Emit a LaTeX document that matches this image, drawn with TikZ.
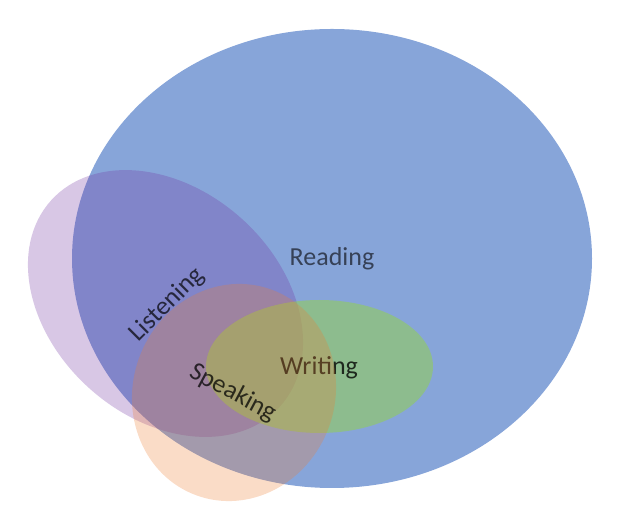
\documentclass[tikz,border=0pt]{standalone}
\usepackage{fontspec}
\setmainfont{Carlito}
\usepackage{tikz}
\definecolor{readblue}{HTML}{4472C4}
\definecolor{listenpurple}{HTML}{7030A0}
\definecolor{speakorange}{HTML}{ED7D31}
\definecolor{writegreen}{HTML}{92D050}
\tikzset{skill/.style={font=\fontsize{26}{31}\selectfont,inner sep=0pt}}

\begin{document}
\begin{tikzpicture}[x=1pt,y=1pt]
        \useasboundingbox (0,0) rectangle (620,521);
        % big reading set, everything else sits on it
        \fill[readblue,opacity=0.64] (332,262.5) ellipse [x radius=260, y radius=229.5];
        \fill[listenpurple,opacity=0.27,rotate around={-42:(165.5,217.5)}]
          (165.5,217.5) ellipse [x radius=154, y radius=114];
        \fill[writegreen,opacity=0.55] (319.5,154.5) ellipse [x radius=113.5, y radius=66.5];
        \node[skill,text opacity=0.78] (writing) at (319,153) {Writing};
        \fill[speakorange,opacity=0.27,rotate around={-20:(234,128.5)}]
          (234,128.5) ellipse [x radius=101, y radius=109.5];
        \node[skill,text opacity=0.6] (reading) at (332,262) {Reading};
        \node[skill,text opacity=0.7,rotate=45] (listening) at (167,216) {Listening};
        \node[skill,text opacity=0.74,rotate=-28] (speaking) at (233,128) {Speaking};
      \end{tikzpicture}
\end{document}
